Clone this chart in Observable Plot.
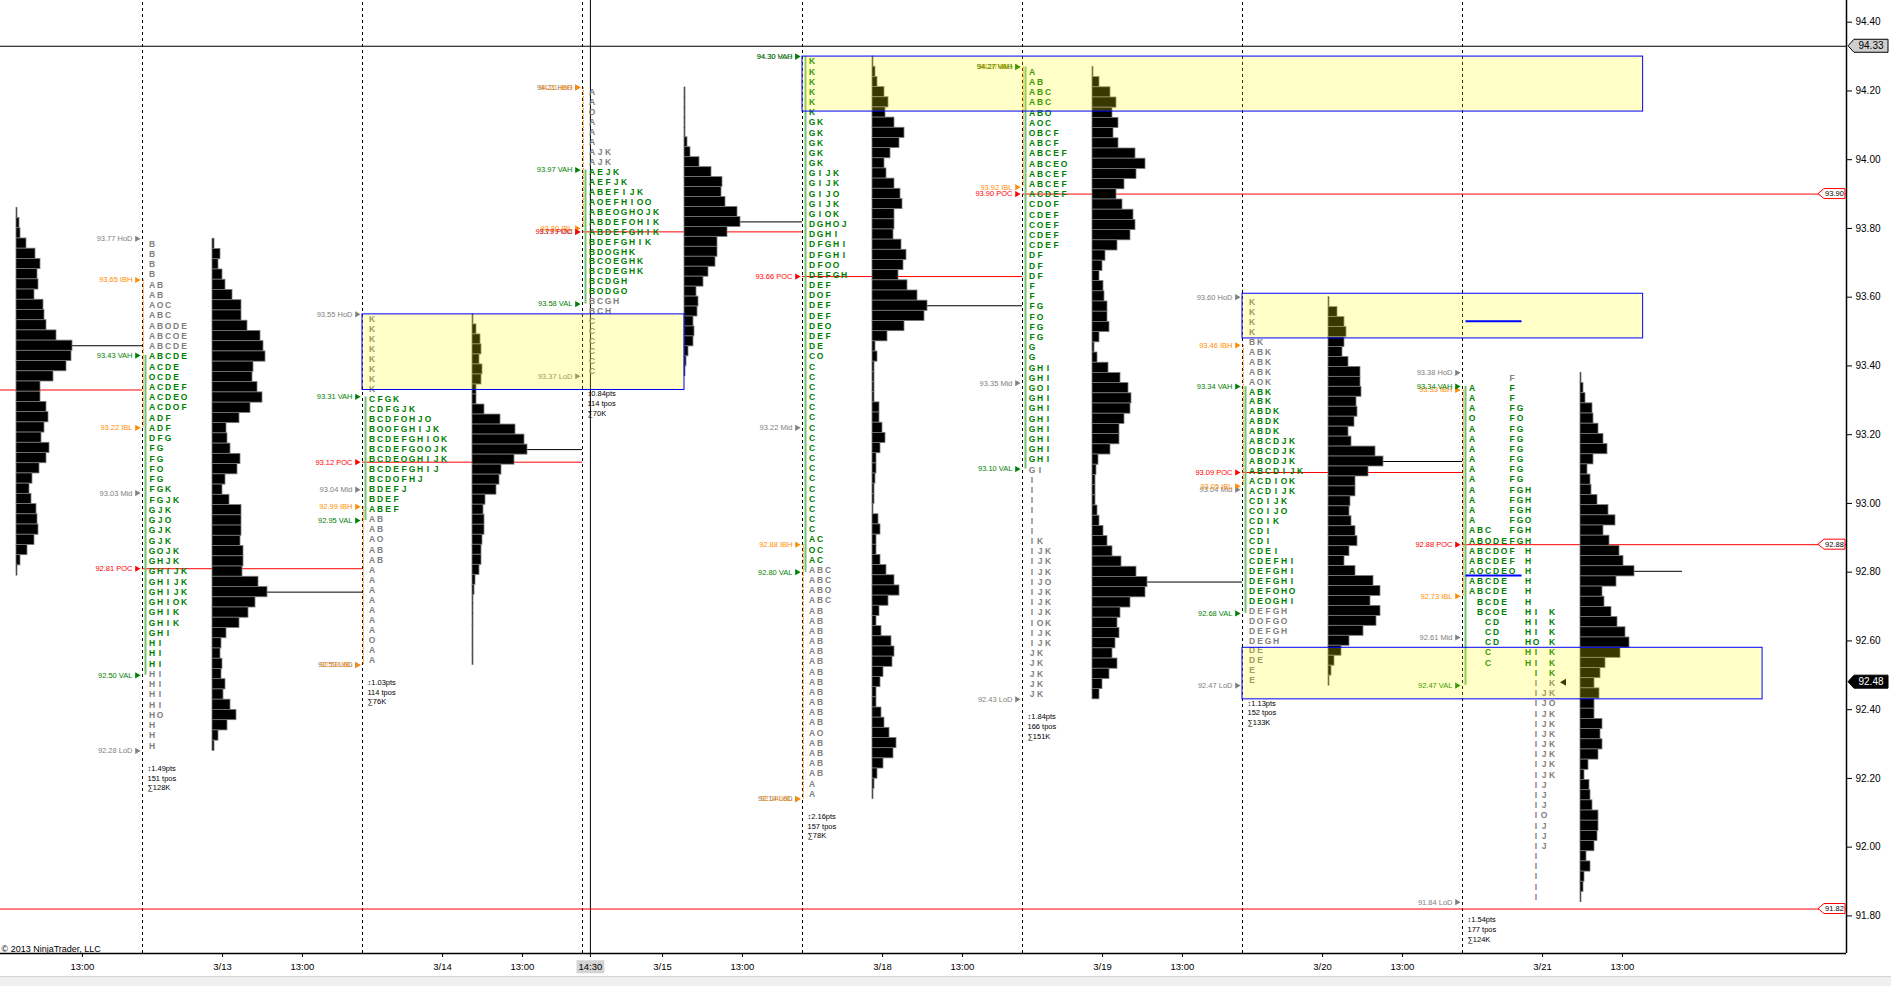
<!DOCTYPE html>
<html><head><meta charset="utf-8">
<script src="https://cdn.jsdelivr.net/npm/d3@7"></script>
<script src="https://cdn.jsdelivr.net/npm/@observablehq/plot@0.6"></script>
<style>
html,body{margin:0;padding:0;background:#fff;overflow:hidden;}
#scroll{height:9px;background:#f0f0f0;border-top:1px solid #d4d4d4;width:1891px;}
</style></head><body><div id="chart"></div><div id="scroll"></div>
<script>
// ---------- data ----------
const sessionNames = ["3/12","3/13","3/14","3/15","3/18","3/19","3/20","3/21"];
const hod = [93.86, 93.77, 93.55, 94.21, 94.30, 94.27, 93.60, 93.38];
const lod = [92.79, 92.28, 92.53, 93.37, 92.14, 92.43, 92.47, 91.84];
const ibh = [null, 93.65, 92.99, 94.21, 92.88, 94.27, 93.46, 93.33];
const ibl = [null, 93.22, 92.53, 93.80, 92.14, 93.92, 93.05, 92.73];
const vah = [null, 93.43, 93.31, 93.97, 94.30, 94.27, 93.34, 93.34];
const val = [null, 92.50, 92.95, 93.58, 92.80, 93.10, 92.68, 92.47];
const poc = [93.33, 92.81, 93.12, 93.79, 93.66, 93.90, 93.09, 92.88];
const mid = [null, 93.03, 93.04, 93.79, 93.22, 93.35, 93.04, 92.61];
const nakedPoc = [false, false, false, false, false, true, false, true];
const stats = [null,
  "↕1.49pts\n151 tpos\n∑128K",
  "↕1.03pts\n114 tpos\n∑76K",
  "↕0.84pts\n114 tpos\n∑70K",
  "↕2.16pts\n157 tpos\n∑78K",
  "↕1.84pts\n166 tpos\n∑151K",
  "↕1.13pts\n152 tpos\n∑133K",
  "↕1.54pts\n177 tpos\n∑124K"];
const hiddenCols = 8; // 3/12 letters are off-screen to the left

const tpo0313 = ["B","B","B","B","AB","AB","AOC","ABC","ABODE","ABCOE","ABCDE","ABCDE","ACDE","OCDE","ACDEF","ACDEO","ACDOF","ADF","ADF","DFG","FG","FG","FO","FG","FGK","FGJK","GJK","GJO","GJK","GJK","GOJK","GHJK","GHIJK","GHIJK","GHIJK","GHIOK","GHIK","GHIK","GHI","HI","HI","HI","HI","HI","HI","HI","HO","H","H","H"];
const tpo0314 = ["K","K","K","K","K","K","K","K","CFGK","CDFGJK","BCDFOHJO","BOOFGHIJK","BCDEFGHIOK","BCDEFGOOJK","BCDEOGHIJK","BCDEFGHIJ","BCDOFHJ","BDEFJ","BDEF","ABEF","AB","AB","AO","AB","AB","A","A","A","A","A","A","A","O","A","A"];
const tpo0315 = ["A","A","O","A","A","A","AJK","AJK","AEJK","AEFJK","ABEFIJK","AOEFHIOO","ABEOGHOJK","ABDEFOHIK","ABDEFGHIK","BDEFGHIK","BDOGHK","BCOEGHK","BCDEGHK","BCDGH","BODGO","BCGH","BCH","C","C","C","C","C","C"];
const tpo0318 = ["K","K","K","K","K","K","GK","GK","GK","GK","GK","GIJK","GIJK","GIJO","GIJK","GIOK","DGHOJ","DGHI","DFGHI","DFGHI","DFOO","DEFGH","DEF","DOF","DEF","DEF","DEO","DEF","DE","CO","C","C","C","C","C","C","C","C","C","C","C","C","C","C","C","C","C","AC","OC","AC","ABC","ABC","ABO","ABC","AB","AB","AB","AB","AB","AB","AB","AB","AB","AB","AB","AB","AO","AB","AB","AB","AB","A","A"];
const tpo0319 = ["A","AB","ABC","ABC","ABO","AOC","OBCF","ABCF","ABCEF","ABCEO","ABCEF","ABCEF","ACDEF","CDOF","CDEF","COEF","CDEF","CDEF","DF","DF","DF","F","F","FG","FO","FG","FG","G","G","GHI","GHI","GOI","GHI","GHI","GHI","GHI","GHI","GHI","GHI","GI","I","I","I","I","I","I","IK","IJK","IJK","IJK","IJO","IJK","IJK","IJK","IOK","IJK","IJK","JK","JK","JK","JK","JK"];
const tpo0320 = ["K","K","K","K","BK","ABK","ABK","ABK","AOK","ABK","ABK","ABDK","ABDK","ABDK","ABCDJK","OBCDJK","ABODJK","ABCDIJK","ACDIOK","ACDIJK","CDIJK","COIJO","CDIK","CDI","CDI","CDEI","CDEFHI","DEFGHI","DEFGHI","DEFOHO","DEOGHI","DEFGH","DOFGO","DEFGH","DEGH","DE","DE","E","E"];
const tpo0321 = ["     F","A    F","A    F","A    FG","O    FO","A    FG","A    FG","A    FG","A    FG","A    FG","A    FG","A    FGH","A    FGH","A    FGH","A    FGO","ABC  FGH","ABODEFGH","ABCDOF H","ABCDEF H","AOCDEO H","ABCDE  H","ABCDE  H"," BCDE  H"," BCOE  HI K","  CD   HI K","  CD   HI K","  CD   HO K","  C    HI K","  C    HI K","        I K","        I K","        IJK","        IJO","        IJK","        IJK","        IJK","        IJK","        IJK","        IJK","        IJK","        IJ","        IJ","        IJ","        IO","        IJ","        IJ","        IJ","        I","        I","        I","        I","        I"];

const vol0312 = [1,3,4,10,19,24,21,22,18,27,28,30,40,56,55,50,37,24,24,30,32,28,25,33,30,23,16,13,15,20,21,22,18,11,4,1];
const vol0313 = [2,8,6,10,13,20,29,29,35,48,51,53,41,40,45,50,38,27,14,15,18,28,25,13,10,17,29,29,29,28,31,31,30,46,55,43,36,27,14,9,8,10,9,13,11,18,24,15,6,2];
const vol0314 = [1,4,8,9,7,10,9,4,4,12,28,43,52,55,42,29,27,24,13,11,12,12,10,9,9,7,3,2,1,1,1,1,1,1,1];
const vol0315 = [1,1,1,1,1,3,6,15,27,38,37,41,53,56,43,33,33,31,24,19,12,14,13,9,10,9,4,2,1];
const vol0318 = [1,3,5,12,16,13,22,32,27,18,12,14,22,28,30,22,22,21,29,34,31,26,35,45,55,52,32,15,3,5,2,2,2,2,7,7,10,13,8,4,4,3,2,2,1,6,8,4,4,8,14,22,27,16,7,4,9,19,22,20,11,8,4,4,9,12,17,24,21,11,5,2,1];
const vol0319 = [1,7,18,24,20,26,21,26,43,53,44,32,24,30,41,43,38,25,13,10,7,11,12,15,15,17,7,2,5,16,28,36,39,38,32,27,27,18,6,4,3,3,3,5,7,11,15,20,29,44,55,53,38,28,25,27,23,20,25,17,10,7];
const vol0320 = [1,9,16,18,16,14,20,32,32,33,28,29,26,20,23,47,55,40,27,27,22,21,23,27,29,21,16,27,45,52,42,52,48,35,21,13,6,3,1];
const vol0321 = [1,3,5,12,13,18,23,27,13,7,10,11,17,28,35,23,29,39,43,54,36,22,24,31,37,45,49,40,25,20,14,19,14,14,22,20,22,18,8,4,9,10,12,18,18,17,14,6,10,4,3,1];

// untested ranges (session units / prices)
const boxX1 = [2, 4, 6, 6];
const boxX2 = [3.4636, 7.821, 7.821, 8.364];
const boxTop = [93.55, 94.30, 93.61, 92.58];
const boxBottom = [93.33, 94.14, 93.48, 92.43];
const blueMarkPrices = [93.53, 92.79];

const highLine = 94.33;
const oldNakedPoc = 91.82;
const lastPrice = 92.48;
const currentTime = 3.036;
const sessionStarts = [1, 2, 3, 4, 5, 6, 7];
const tagPrices = [94.33, 93.90, 92.88, 92.48, 91.82];
const tagKinds = ["high", "poc", "poc", "last", "poc"];

const xTickPos = [0.727, 1.364, 1.727, 2.364, 2.727, 3.036, 3.364, 3.727, 4.364, 4.727, 5.364, 5.727, 6.364, 6.727, 7.364, 7.727];
const xTickLabels = ["13:00","3/13","13:00","3/14","13:00","14:30","3/15","13:00","3/18","13:00","3/19","13:00","3/20","13:00","3/21","13:00"];
const yTicks = [91.8, 92.0, 92.2, 92.4, 92.6, 92.8, 93.0, 93.2, 93.4, 93.6, 93.8, 94.0, 94.2, 94.4];
const copyright = "© 2013 NinjaTrader, LLC";

// ---------- layout ----------
const W = 1891, H = 976, MR = 45, MB = 23;
const xMin = 78 / 220, xMax = 1924 / 220;
const yMax = 94.40 + 21.7 / 343.7, yMin = 91.80 - (953 - 915.4) / 343.7;
const PX = (xMax - xMin) / (W - MR);
const GREEN = "#008000", GRAY = "#808080", ORANGE = "#ff8c00", RED = "#ff0000";

const tpoRows = [null, tpo0313, tpo0314, tpo0315, tpo0318, tpo0319, tpo0320, tpo0321];
const volRows = [vol0312, vol0313, vol0314, vol0315, vol0318, vol0319, vol0320, vol0321];

const letters = [], bars = [], volLines = [], labels = [], vaLines = [], ibLines = [], statText = [];
for (let s = 0; s < sessionNames.length; s++) {
  const hi = hod[s], lo = lod[s], rows = tpoRows[s];
  const cols = rows ? d3.max(rows, r => r.length) : hiddenCols;
  if (rows) {
    const h = (hi - lo) / rows.length;
    const vaTop = Math.floor((hi - vah[s]) / h + 0.05), vaBot = Math.floor((hi - val[s]) / h + 0.05);
    rows.forEach((r, i) => [...r].forEach((ch, c) => {
      if (ch !== " ") letters.push({x: s + (9.5 + 8 * c) * PX, y: hi - (i + 0.5) * h, t: ch,
        fill: (i >= vaTop && i < vaBot) ? GREEN : GRAY});
    }));
  }
  const vols = volRows[s], hv = (hi - lo) / vols.length, x0 = s + (30 + 8 * cols) * PX;
  vols.forEach((v, i) => bars.push({x1: x0, x2: x0 + v * PX, y1: hi - i * hv, y2: hi - (i + 1) * hv}));
  const m = d3.maxIndex(vols);
  volLines.push({x1: x0 + vols[m] * PX, x2: s + 1, y: hi - (m + 0.5) * hv});
  if (s >= 1) {
    const kinds = [["LoD", lod, GRAY], ["Mid", mid, GRAY], ["HoD", hod, GRAY], ["IBL", ibl, ORANGE], ["IBH", ibh, ORANGE],
                   ["VAL", val, GREEN], ["VAH", vah, GREEN], ["POC", poc, RED]];
    for (const [k, arr, col] of kinds) labels.push({x: s, y: arr[s], t: `${arr[s].toFixed(2)} ${k}`, fill: col});
    vaLines.push({x: s + 3 * PX, y1: vah[s], y2: val[s]});
    ibLines.push({x: s + 0.8 * PX, y1: ibh[s], y2: ibl[s]});
    statText.push({x: s + 5 * PX, y: lo, t: stats[s]});
  }
}
const pocLines = poc.map((p, s) => ({x1: s === 0 ? xMin : s, x2: nakedPoc[s] ? xMax : s + 1, y: p}));
pocLines.push({x1: xMin, x2: xMax, y: oldNakedPoc});
const boxes = boxX1.map((x, i) => ({x1: x, x2: boxX2[i], y1: boxTop[i], y2: boxBottom[i]}));
const blueMarks = blueMarkPrices.map(p => ({x1: 7 + 3.5 * PX, x2: 7 + 59.5 * PX, y: p}));
const tickLabelMap = new Map(xTickPos.map((p, i) => [p, xTickLabels[i]]));

const chart = Plot.plot({
  width: W, height: H,
  marginLeft: 0, marginRight: MR, marginTop: 0, marginBottom: MB,
  x: {domain: [xMin, xMax]},
  y: {domain: [yMin, yMax]},
  style: {fontFamily: "'Liberation Sans', Arial, sans-serif", fontSize: "10px", background: "white", color: "black", overflow: "visible"},
  marks: [
    Plot.ruleX(sessionStarts, {y1: yMin, y2: yMax, stroke: "black", strokeDasharray: "3,3", strokeWidth: 1}),
    Plot.ruleX([currentTime], {y1: yMin, y2: yMax, stroke: "black", strokeWidth: 1}),
    Plot.ruleY([highLine], {x1: xMin, x2: xMax, stroke: "black", strokeWidth: 1}),
    Plot.ruleY(pocLines, {x1: "x1", x2: "x2", y: "y", stroke: RED, strokeWidth: 1}),
    Plot.ruleY(volLines, {x1: "x1", x2: "x2", y: "y", stroke: "black", strokeWidth: 1}),
    Plot.ruleX(ibLines, {x: "x", y1: "y1", y2: "y2", stroke: ORANGE, strokeWidth: 1, strokeDasharray: "2,1"}),
    Plot.ruleX(vaLines, {x: "x", y1: "y1", y2: "y2", stroke: "#74c274", strokeWidth: 2}),
    Plot.rect(bars, {x1: "x1", x2: "x2", y1: "y1", y2: "y2", fill: "black", stroke: "#7a7a7a", strokeWidth: 0.8}),
    Plot.text(letters, {x: "x", y: "y", text: "t", fill: "fill", fontWeight: "bold", fontSize: 8.5}),
    Plot.text(labels, {x: "x", y: "y", text: "t", fill: "fill", textAnchor: "end", dx: -10, fontSize: 7.5}),
    Plot.dot(labels, {x: "x", y: "y", fill: "fill", symbol: "triangle", rotate: 90, r: 2.3, dx: -5.5}),
    Plot.text(statText, {x: "x", y: "y", text: "t", textAnchor: "start", lineAnchor: "top", dy: 13, lineHeight: 1.3, fontSize: 7.5, fill: "black"}),
    Plot.dot([lastPrice], {x: 7 + (9.5 + 8 * 11.5) * PX, y: d => d, symbol: "triangle", rotate: -90, r: 2.6, fill: "black"}),
    Plot.rect(boxes, {x1: "x1", x2: "x2", y1: "y1", y2: "y2", fill: "#ffff00", fillOpacity: 0.22, stroke: "#0000ff", strokeWidth: 1}),
    Plot.ruleY(blueMarks, {x1: "x1", x2: "x2", y: "y", stroke: "#0000ff", strokeWidth: 2}),
    Plot.text([copyright], {text: d => d, frameAnchor: "bottom-left", textAnchor: "start", lineAnchor: "bottom", dx: 1, dy: -2, fontSize: 9, fill: "black"}),
    Plot.ruleX([xMax], {stroke: "black", strokeWidth: 1.5}),
    Plot.ruleY([yMin], {stroke: "black", strokeWidth: 1.5}),
    Plot.axisX({anchor: "bottom", ticks: xTickPos, tickFormat: d => tickLabelMap.get(d), tickSize: 4, tickPadding: 6, fontSize: 9.5, label: null}),
    Plot.axisY({anchor: "right", ticks: yTicks, tickFormat: d => d.toFixed(2), tickSize: 5, tickPadding: 4, fontSize: 10, label: null})
  ]
});
document.getElementById("chart").append(chart);

// price tags on the right edge, placed through the plot's y scale
const ys = chart.scale("y");
const yPx = ys.apply ? v => ys.apply(v) : d3.scaleLinear(ys.domain, ys.range);
const axisX = W - MR;
const g = d3.select(chart).append("g").attr("font-family", "'Liberation Sans', Arial, sans-serif");
tagPrices.forEach((p, i) => {
  const y = yPx(p), k = tagKinds[i];
  let x0, x1, hh, fill, stroke, tfill, fs;
  if (k === "poc") { x0 = axisX - 28; x1 = axisX - 1; hh = 5; fill = "white"; stroke = RED; tfill = "black"; fs = 7.5; }
  else { x0 = axisX + 2; x1 = axisX + 42; hh = 6.5; fill = k === "last" ? "black" : "#cfcfcf"; stroke = "black"; tfill = k === "last" ? "white" : "black"; fs = 10; }
  g.append("path").attr("d", `M${x0},${y}L${x0 + 6},${y - hh}L${x1},${y - hh}L${x1},${y + hh}L${x0 + 6},${y + hh}Z`)
    .attr("fill", fill).attr("stroke", stroke).attr("stroke-width", 1);
  g.append("text").attr("x", (x0 + 6 + x1) / 2).attr("y", y).attr("dy", "0.35em").attr("text-anchor", "middle")
    .attr("font-size", fs).attr("fill", tfill).text(p.toFixed(2));
});
// highlight box behind the current-time tick label (same transform as the label)
d3.select(chart).selectAll("text").filter(function () { return this.textContent === "14:30"; }).each(function () {
  const b = this.getBBox();
  const r = document.createElementNS("http://www.w3.org/2000/svg", "rect");
  r.setAttribute("x", b.x - 2); r.setAttribute("y", b.y - 1);
  r.setAttribute("width", b.width + 4); r.setAttribute("height", b.height + 2);
  r.setAttribute("fill", "#d3d3d3");
  const tr = this.getAttribute("transform");
  if (tr) r.setAttribute("transform", tr);
  this.parentNode.insertBefore(r, this);
});
</script></body></html>
